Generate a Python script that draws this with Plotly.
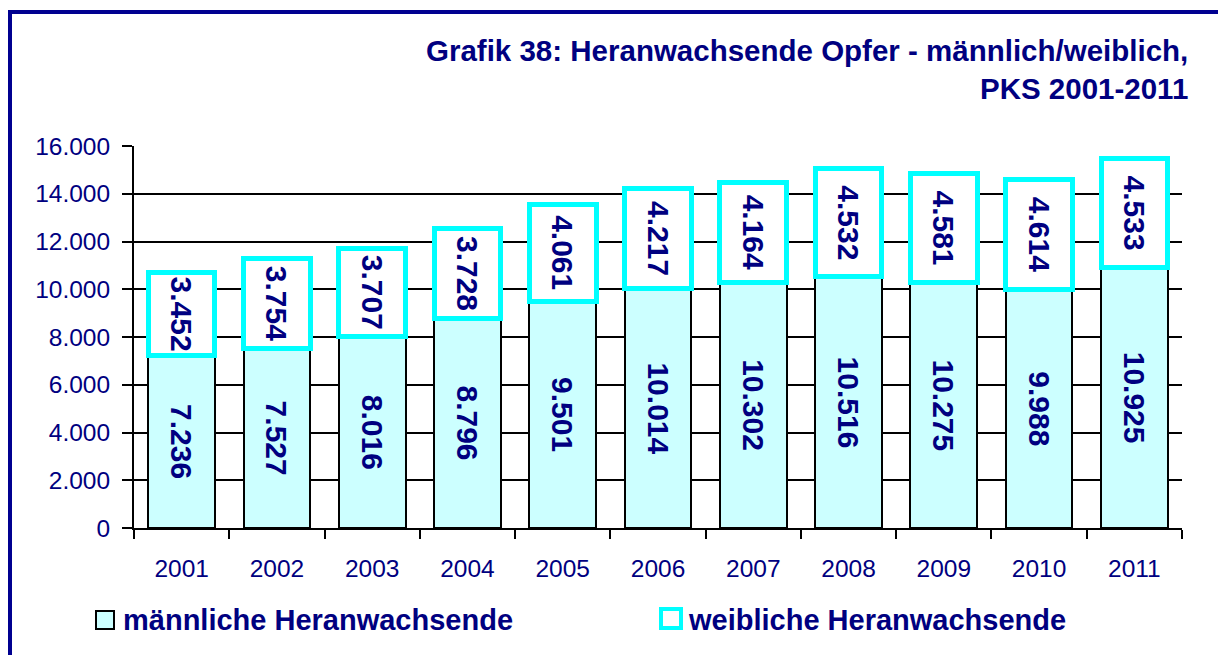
import plotly.graph_objects as go

# PKS 2001-2011: adolescent victims by sex
years = ["2001", "2002", "2003", "2004", "2005", "2006", "2007", "2008", "2009", "2010", "2011"]
maennlich = [7236, 7527, 8016, 8796, 9501, 10014, 10302, 10516, 10275, 9988, 10925]
weiblich = [3452, 3754, 3707, 3728, 4061, 4217, 4164, 4532, 4581, 4614, 4533]
series_names = ["männliche Heranwachsende", "weibliche Heranwachsende"]
title_lines = ["Grafik 38: Heranwachsende Opfer - männlich/weiblich,", "PKS 2001-2011"]
y_ticks = [0, 2000, 4000, 6000, 8000, 10000, 12000, 14000, 16000]

NAVY = "#000080"
FONT = "Arial, Liberation Sans, sans-serif"
W, H = 1218, 655
L, R, T, B = 134, 36, 146, 127
PW, PH = W - L - R, H - T - B


def px_x(x):
    """Convert a pixel column to paper x."""
    return (x - L) / PW


def px_y(y):
    """Convert a pixel row to paper y."""
    return (H - B - y) / PH


fig = go.Figure()
fig.add_bar(
    x=years, y=maennlich, name=series_names[0],
    marker=dict(color="#CCFFFF", line=dict(color="black", width=2)),
    texttemplate="%{y:,.0f}", textposition="inside", insidetextanchor="middle",
    textangle=90, constraintext="none",
    textfont=dict(family=FONT, size=30, color=NAVY, weight="bold"),
    showlegend=False,
)
fig.add_bar(
    x=years, y=weiblich, name=series_names[1],
    marker=dict(color="white", line=dict(color="#00FFFF", width=5)),
    texttemplate="%{y:,.0f}", textposition="inside", insidetextanchor="middle",
    textangle=90, constraintext="none",
    textfont=dict(family=FONT, size=30, color=NAVY, weight="bold"),
    showlegend=False,
)

shapes = [
    # frame around the whole graphic
    dict(type="rect", xref="paper", yref="paper",
         x0=px_x(10), x1=px_x(W + 20), y0=px_y(H + 20), y1=px_y(12),
         line=dict(color="#000090", width=4), fillcolor="rgba(0,0,0,0)", layer="below"),
    # legend keys
    dict(type="rect", xref="paper", yref="paper",
         x0=px_x(96), x1=px_x(114), y0=px_y(629), y1=px_y(611),
         line=dict(color="black", width=2), fillcolor="#CCFFFF"),
    dict(type="rect", xref="paper", yref="paper",
         x0=px_x(661), x1=px_x(681), y0=px_y(628), y1=px_y(609),
         line=dict(color="#00FFFF", width=4), fillcolor="white"),
]

annotations = [
    dict(text="<br>".join(title_lines), xref="paper", yref="paper",
         x=px_x(1190), y=px_y(32), xanchor="right", yanchor="top", align="right",
         showarrow=False, font=dict(family=FONT, size=29.5, color=NAVY, weight="bold")),
    dict(text=series_names[0], xref="paper", yref="paper",
         x=px_x(121), y=px_y(620), xanchor="left", yanchor="middle",
         showarrow=False, font=dict(family=FONT, size=29, color=NAVY, weight="bold")),
    dict(text=series_names[1], xref="paper", yref="paper",
         x=px_x(686), y=px_y(620), xanchor="left", yanchor="middle",
         showarrow=False, font=dict(family=FONT, size=29, color=NAVY, weight="bold")),
]

fig.update_layout(
    barmode="stack", bargap=0.3,
    width=W, height=H,
    margin=dict(l=L, r=R, t=T, b=B, pad=0),
    paper_bgcolor="white", plot_bgcolor="white",
    separators=",.",
    font=dict(family=FONT, color=NAVY),
    shapes=shapes, annotations=annotations,
    showlegend=False,
)
fig.update_xaxes(
    type="category", tickson="boundaries", ticks="outside", ticklen=9,
    tickwidth=2, tickcolor="black", showline=True, linecolor="black", linewidth=2,
    tickfont=dict(family=FONT, size=24.5, color=NAVY), showgrid=False,
    ticklabelstandoff=18,
)
fig.update_yaxes(
    range=[0, 16000], tickvals=y_ticks, tickformat=",.0f",
    ticks="outside", ticklen=10, tickwidth=2, tickcolor="black",
    showline=True, linecolor="black", linewidth=2,
    showgrid=True, gridcolor="black", gridwidth=2, zeroline=False,
    tickfont=dict(family=FONT, size=24.5, color=NAVY),
    ticklabelstandoff=7,
)

fig.write_html("out.html")
